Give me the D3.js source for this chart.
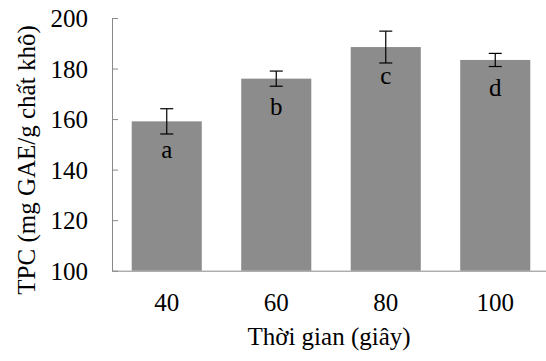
<!DOCTYPE html>
<html>
<head>
<meta charset="utf-8">
<script src="https://cdn.jsdelivr.net/npm/d3@7"></script>
<style>
  body { margin: 0; background: #fff; }
  svg { display: block; font-family: "Liberation Serif", "Times New Roman", serif; }
</style>
</head>
<body>
<svg id="chart"></svg>
<script>
// data
const categories = ['40', '60', '80', '100'];
const tpcValues = [159.1, 176.0, 188.5, 183.4];
const tpcErrors = [5.0, 3.0, 6.3, 2.6];
const groupLetters = ['a', 'b', 'c', 'd'];
const yTicks = [100, 120, 140, 160, 180, 200];

const width = 546;
const height = 361;
const barColor = '#8c8c8c';
const axisColor = '#898989';
const fontSize = 25;

const svg = d3.select('#chart').attr('width', width).attr('height', height);

const x = d3.scaleBand().domain(categories).range([112, 550]).paddingInner(0.36).paddingOuter(0.18);
const y = d3.scaleLinear().domain([100, 200]).range([270.7, 18]);

// y axis (inside ticks)
const yAxis = svg.append('g')
  .attr('transform', 'translate(112,0)')
  .call(d3.axisLeft(y).tickValues(yTicks).tickSizeInner(-6).tickSizeOuter(0).tickPadding(24));
yAxis.select('.domain').attr('stroke', axisColor);
yAxis.selectAll('.tick line').attr('stroke', axisColor);
yAxis.selectAll('.tick text')
  .attr('font-size', fontSize)
  .attr('font-family', '"Liberation Serif", "Times New Roman", serif')
  .attr('fill', '#000')
  .attr('dy', '0.35em');

// bars
svg.append('g')
  .selectAll('rect')
  .data(categories)
  .enter()
  .append('rect')
  .attr('x', (d) => x(d))
  .attr('width', x.bandwidth())
  .attr('y', (d, i) => y(tpcValues[i]))
  .attr('height', (d, i) => y(100) - y(tpcValues[i]))
  .attr('fill', barColor);

// x axis
const xAxis = svg.append('g')
  .attr('transform', `translate(0,${y(100)})`)
  .call(d3.axisBottom(x).tickSize(0).tickSizeOuter(0));
xAxis.select('.domain').attr('stroke', axisColor);
xAxis.selectAll('.tick text')
  .attr('font-size', fontSize)
  .attr('font-family', '"Liberation Serif", "Times New Roman", serif')
  .attr('fill', '#000')
  .attr('y', 40.5)
  .attr('dy', 0);

// error bars
const err = svg.append('g').attr('stroke', '#000').attr('stroke-width', 1.2);
categories.forEach((c, i) => {
  const cx = x(c) + x.bandwidth() / 2;
  const top = y(tpcValues[i] + tpcErrors[i]);
  const bot = y(tpcValues[i] - tpcErrors[i]);
  err.append('line').attr('x1', cx).attr('x2', cx).attr('y1', top).attr('y2', bot);
  err.append('line').attr('x1', cx - 6.5).attr('x2', cx + 6.5).attr('y1', top).attr('y2', top);
  err.append('line').attr('x1', cx - 6.5).attr('x2', cx + 6.5).attr('y1', bot).attr('y2', bot);
});

// letters
svg.append('g')
  .selectAll('text')
  .data(categories)
  .enter()
  .append('text')
  .attr('x', (d) => x(d) + x.bandwidth() / 2)
  .attr('y', (d, i) => y(tpcValues[i]) + 36.5)
  .attr('text-anchor', 'middle')
  .attr('font-size', fontSize)
  .attr('fill', '#000')
  .text((d, i) => groupLetters[i]);

// axis titles
svg.append('text')
  .attr('x', 329)
  .attr('y', 345)
  .attr('text-anchor', 'middle')
  .attr('font-size', fontSize)
  .text('Thời gian (giây)');

svg.append('text')
  .attr('transform', 'rotate(-90)')
  .attr('x', -160)
  .attr('y', 35)
  .attr('text-anchor', 'middle')
  .attr('font-size', fontSize)
  .text('TPC (mg GAE/g chất khô)');
</script>
</body>
</html>
